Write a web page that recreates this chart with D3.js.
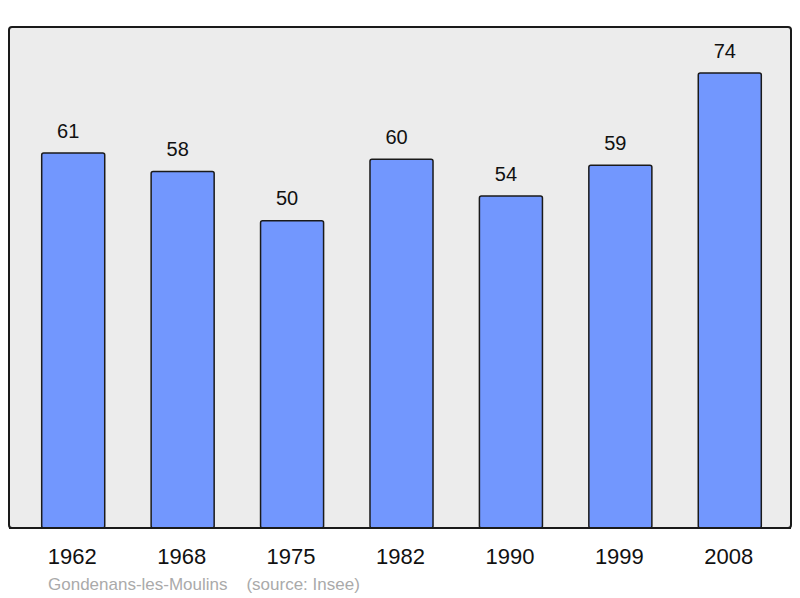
<!DOCTYPE html>
<html><head><meta charset="utf-8">
<script src="https://cdn.jsdelivr.net/npm/d3@7"></script>
<style>body{margin:0;background:#fff;}svg{display:block;font-family:"Liberation Sans",Arial,sans-serif;}</style>
</head><body>
<svg id="c" width="800" height="598"></svg>
<script>
const years = ["1962","1968","1975","1982","1990","1999","2008"];
const population = [61,58,50,60,54,59,74];
const caption = "Gondenans-les-Moulins    (source: Insee)";

const svg = d3.select("#c");
const frame = {l:9, t:27, r:791, b:528};
const x = d3.scaleBand().domain(years).range([18.5,784.5]).paddingInner(0.424).paddingOuter(0.212);
const y = d3.scaleLinear().domain([0,81.5]).range([frame.b, frame.t]);

svg.append("rect").attr("x",frame.l).attr("y",frame.t)
  .attr("width",frame.r-frame.l).attr("height",frame.b-frame.t)
  .attr("rx",3).attr("fill","#ececec").attr("stroke","#1a1a1a").attr("stroke-width",2);

const data = years.map((yr,i)=>({yr, v:population[i]}));
svg.selectAll("rect.bar").data(data).enter().append("rect").attr("class","bar")
  .attr("x",d=>x(d.yr)).attr("width",x.bandwidth())
  .attr("y",d=>y(d.v)).attr("height",d=>y(0)-y(d.v))
  .attr("rx",2).attr("fill","#7297fe").attr("stroke","#1a1a1a").attr("stroke-width",1.5);

svg.append("line").attr("x1",frame.l).attr("x2",frame.r).attr("y1",frame.b).attr("y2",frame.b)
  .attr("stroke","#1a1a1a").attr("stroke-width",2);

svg.selectAll("text.val").data(data).enter().append("text").attr("class","val")
  .attr("x",d=>x(d.yr)+x.bandwidth()/2-5).attr("y",d=>y(d.v)-15.5)
  .attr("text-anchor","middle").attr("font-size",20).attr("fill","#111").text(d=>d.v);

const axis = d3.axisBottom(x).tickSize(0).tickPadding(0);
const g = svg.append("g").attr("transform",`translate(0,${frame.b})`).call(axis);
g.select(".domain").remove();
g.selectAll("text").attr("font-size",22).attr("fill","#111").attr("dy",null).attr("y",36).attr("x",-1)
  .attr("font-family","Liberation Sans, Arial, sans-serif");

svg.append("text").attr("x",48).attr("y",590).attr("font-size",17).attr("fill","#aaaaaa")
  .attr("xml:space","preserve").style("white-space","pre").text(caption);
</script>
</body></html>
